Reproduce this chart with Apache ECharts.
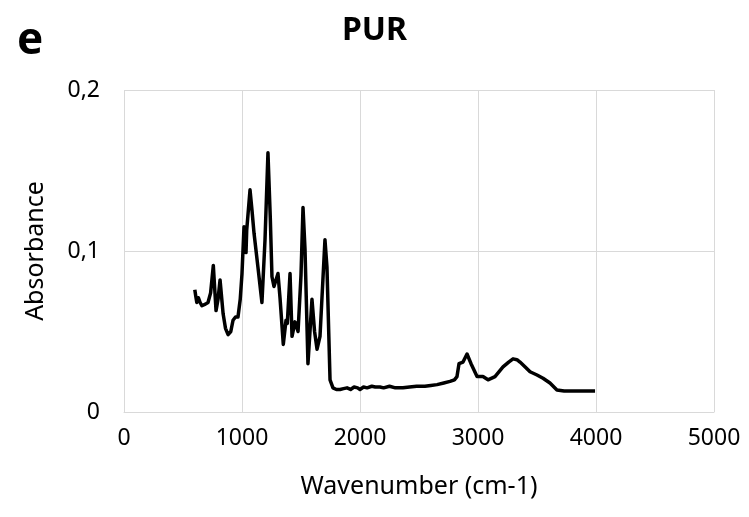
<!DOCTYPE html>
<html><head><meta charset="utf-8">
<script src="https://cdn.jsdelivr.net/npm/echarts@6/dist/echarts.min.js"></script>
<style>html,body{margin:0;padding:0;background:#fff}#c{width:749px;height:517px}</style>
</head><body><div id="c"></div>
<script>
const wavenumber = [600,608,617,630,645,660,690,712,734,757,770,780,797,814,840,860,882,905,924,945,966,985,1000,1017,1034,1040,1068,1085,1102,1135,1169,1195,1220,1240,1254,1271,1305,1322,1350,1373,1384,1407,1424,1449,1475,1500,1517,1534,1559,1593,1615,1636,1661,1703,1720,1746,1771,1800,1831,1860,1890,1920,1950,1980,2000,2030,2060,2100,2130,2169,2200,2250,2300,2364,2420,2480,2550,2600,2653,2710,2763,2800,2822,2839,2873,2907,2941,2992,3042,3085,3144,3212,3260,3297,3330,3356,3400,3441,3500,3551,3610,3669,3730,3805,3900,3992];
const absorbance = [0.076,0.072,0.068,0.071,0.068,0.066,0.067,0.068,0.074,0.091,0.075,0.063,0.070,0.082,0.061,0.052,0.048,0.050,0.057,0.059,0.059,0.070,0.086,0.115,0.099,0.113,0.138,0.125,0.111,0.090,0.068,0.107,0.161,0.120,0.084,0.078,0.086,0.071,0.042,0.057,0.055,0.086,0.047,0.056,0.050,0.085,0.127,0.101,0.030,0.070,0.050,0.039,0.047,0.107,0.090,0.020,0.015,0.014,0.014,0.0145,0.015,0.014,0.0155,0.015,0.014,0.0155,0.015,0.016,0.0155,0.0155,0.015,0.016,0.015,0.015,0.0155,0.016,0.016,0.0165,0.017,0.018,0.019,0.020,0.022,0.030,0.031,0.036,0.030,0.022,0.022,0.020,0.022,0.028,0.031,0.033,0.0325,0.031,0.028,0.025,0.023,0.021,0.018,0.0137,0.013,0.013,0.013,0.013];
const xTicks = [0,1000,2000,3000,4000,5000];
const yTicks = [0,0.1,0.2];

const FONT = '"Noto Sans", "Open Sans", sans-serif';
const chart = echarts.init(document.getElementById('c'));
chart.setOption({
  animation:false,
  title:[
    {text:'PUR',left:'center',top:10,textStyle:{fontFamily:FONT,fontWeight:'bold',fontSize:32,color:'#000'}},
    {text:'e',left:12,top:14,textStyle:{fontFamily:FONT,fontWeight:'bold',fontSize:44,color:'#000'}}
  ],
  grid:{left:124,right:35,top:90,bottom:105},
  xAxis:{type:'value',min:xTicks[0],max:xTicks[xTicks.length-1],interval:1000,
    name:'Wavenumber (cm-1)',nameLocation:'middle',nameGap:62,
    nameTextStyle:{fontFamily:FONT,fontSize:25,color:'#000'},
    axisLine:{show:true,lineStyle:{color:'#d9d9d9',width:1}},axisTick:{show:false},
    axisLabel:{fontFamily:FONT,fontSize:23,color:'#000',margin:15,formatter:v=>String(v)},
    splitLine:{show:true,lineStyle:{color:'#d9d9d9',width:1}}},
  yAxis:{type:'value',min:yTicks[0],max:yTicks[yTicks.length-1],interval:0.1,
    name:'Absorbance',nameLocation:'middle',nameGap:76,
    nameTextStyle:{fontFamily:FONT,fontSize:25,color:'#000'},
    axisLine:{show:false},axisTick:{show:false},
    axisLabel:{fontFamily:FONT,fontSize:23,color:'#000',margin:24,formatter:v=>String(+v.toFixed(2)).replace('.',',')},
    splitLine:{show:true,lineStyle:{color:'#d9d9d9',width:1}}},
  series:[{type:'line',data:wavenumber.map((w,i)=>[w,absorbance[i]]),showSymbol:false,
    lineStyle:{color:'#000',width:3.5,join:'round'},itemStyle:{color:'#000'}}]
});
</script></body></html>
